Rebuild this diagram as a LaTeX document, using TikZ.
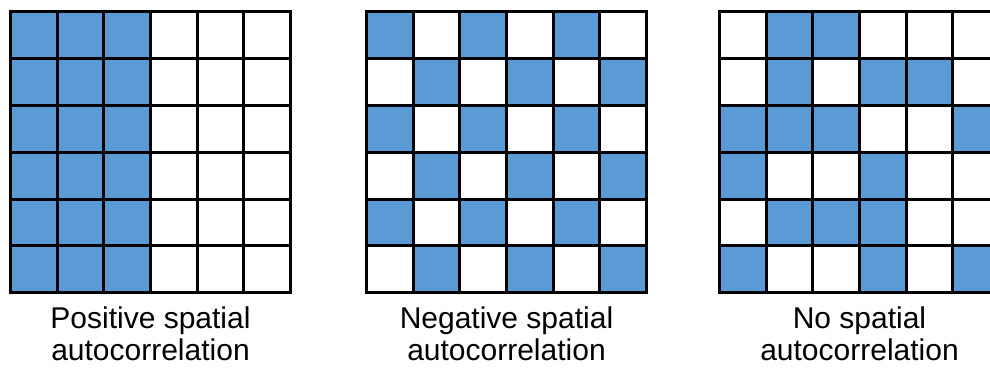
\documentclass[tikz,border=0pt]{standalone}
\usepackage{fontspec}
\setmainfont{Liberation Sans}
\definecolor{cellblue}{HTML}{5B9BD5}

% cell size and grid placement (1 unit = 1pt, y grows downwards)
\newcommand\cellw{46.667}
\newcommand\cellh{46.83}
\newcommand\gridtop{11.75}

% #1 = left edge of the grid, #2 = rows of 0/1 (1 = filled cell), top row first
\newcommand\patterngrid[2]{%
  \foreach \rowbits [count=\r from 0] in {#2} {
    \foreach \bit [count=\c from 0] in \rowbits {
      \ifnum\bit=1
        \fill[cellblue] ({#1+\c*\cellw},{\gridtop+\r*\cellh}) rectangle ++(\cellw,\cellh);
      \fi
    }
  }
  \foreach \k in {0,...,6} {
    \draw[gridline] ({#1+\k*\cellw},\gridtop) -- ++(0,{6*\cellh});
    \draw[gridline] (#1,{\gridtop+\k*\cellh}) -- ++({6*\cellw},0);
  }
}

\begin{document}
\begin{tikzpicture}[x=1pt,y=-1pt,
  gridline/.style={line width=3pt, line cap=rect, draw=black},
  caption/.style={align=center, anchor=north, inner sep=0pt,
    font=\fontsize{30}{32}\selectfont}]
\useasboundingbox (0,0) rectangle (990,367);
\clip (0,0) rectangle (990,367);

% clustered pattern
\patterngrid{10.5}{{1,1,1,0,0,0},{1,1,1,0,0,0},{1,1,1,0,0,0},{1,1,1,0,0,0},{1,1,1,0,0,0},{1,1,1,0,0,0}}
% checkerboard pattern
\patterngrid{366.5}{{1,0,1,0,1,0},{0,1,0,1,0,1},{1,0,1,0,1,0},{0,1,0,1,0,1},{1,0,1,0,1,0},{0,1,0,1,0,1}}
% random pattern
\patterngrid{719.5}{{0,1,1,0,0,0},{0,1,0,1,1,0},{1,1,1,0,0,1},{1,0,0,1,0,0},{0,1,1,1,0,0},{1,0,0,1,0,1}}

\node[caption] (cappos) at (150.5,307) {Positive spatial\\autocorrelation};
\node[caption] (capneg) at (506.5,307) {Negative spatial\\autocorrelation};
\node[caption] (capnone) at (859.5,307) {No spatial\\autocorrelation};
\end{tikzpicture}
\end{document}
